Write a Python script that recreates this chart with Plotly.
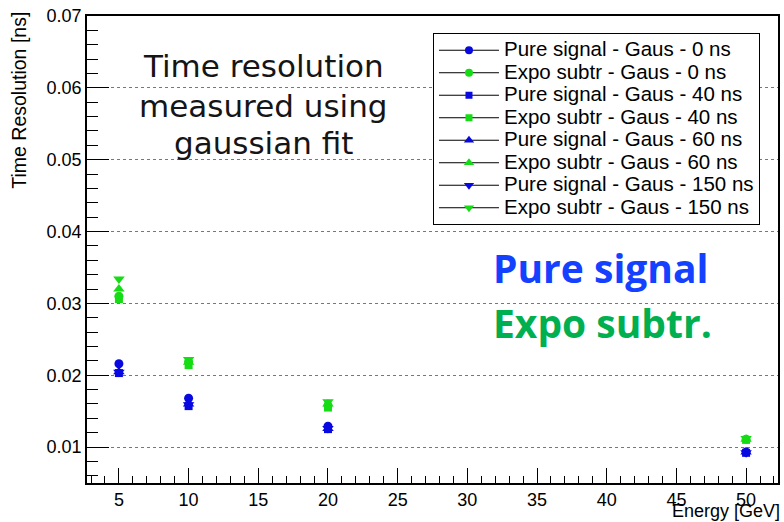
import plotly.graph_objects as go

# Beam energies (GeV)
energy = [5, 10, 20, 50]

# Time resolution (ns) from the gaussian fit, per configuration
pure_0ns = [0.0216, 0.0168, 0.0129, 0.0093]
expo_0ns = [0.0310, 0.0219, 0.0158, 0.0111]
pure_40ns = [0.0203, 0.0157, 0.0125, 0.0092]
expo_40ns = [0.0306, 0.0214, 0.0155, 0.0110]
pure_60ns = [0.0205, 0.0160, 0.0126, 0.0093]
expo_60ns = [0.0320, 0.0218, 0.0160, 0.0111]
pure_150ns = [0.0204, 0.0159, 0.0126, 0.0092]
expo_150ns = [0.0334, 0.0222, 0.0163, 0.0112]

BLUE = "#0808e0"
GREEN = "#16dc16"
FONT = "Liberation Sans, Arial, Helvetica, sans-serif"

series = [
    ("Pure signal - Gaus - 0 ns", pure_0ns, BLUE, "circle", 9),
    ("Expo subtr - Gaus - 0 ns", expo_0ns, GREEN, "circle", 9),
    ("Pure signal - Gaus - 40 ns", pure_40ns, BLUE, "square", 8),
    ("Expo subtr - Gaus - 40 ns", expo_40ns, GREEN, "square", 8),
    ("Pure signal - Gaus - 60 ns", pure_60ns, BLUE, "triangle-up", 10),
    ("Expo subtr - Gaus - 60 ns", expo_60ns, GREEN, "triangle-up", 10),
    ("Pure signal - Gaus - 150 ns", pure_150ns, BLUE, "triangle-down", 10),
    ("Expo subtr - Gaus - 150 ns", expo_150ns, GREEN, "triangle-down", 10),
]

fig = go.Figure()

for name, vals, color, symbol, size in series:
    # data points
    fig.add_trace(go.Scatter(
        x=energy, y=vals, mode="markers", showlegend=False,
        marker=dict(symbol=symbol, size=size, color=color, line=dict(width=0)),
    ))
    # legend entry: black line with coloured marker; larger text in compact rows
    fig.add_trace(go.Scatter(
        x=[None], y=[None], mode="lines+markers",
        name=f"<span style='font-size:20.5px'>{name}</span>",
        line=dict(color="black", width=1),
        marker=dict(symbol=symbol, size=size - 1, color=color, line=dict(width=0)),
    ))

fig.update_layout(
    width=784, height=522,
    margin=dict(l=87, r=4, t=16, b=39),
    paper_bgcolor="white", plot_bgcolor="white",
    font=dict(family=FONT, size=18, color="black"),
    showlegend=True,
    legend=dict(
        x=0.5007, y=0.9636, xanchor="left", yanchor="top",
        bgcolor="white", bordercolor="black", borderwidth=1,
        font=dict(family=FONT, size=15.0, color="black"),
        itemwidth=60, tracegroupgap=0,
    ),
    xaxis=dict(
        range=[2.71, 52.29], dtick=5, tick0=0,
        ticks="inside", ticklen=15, tickwidth=1, tickcolor="black",
        minor=dict(ticks="inside", ticklen=7, dtick=1, tick0=0, tickcolor="black", showgrid=False),
        showgrid=False, zeroline=False,
        showline=True, linecolor="black", linewidth=1.5, mirror=True,
        tickfont=dict(family=FONT, size=18),
    ),
    yaxis=dict(
        range=[0.005, 0.07], dtick=0.01, tick0=0,
        ticks="inside", ticklen=22, tickwidth=1, tickcolor="black",
        minor=dict(ticks="inside", ticklen=11, dtick=0.002, tick0=0, tickcolor="black", showgrid=False),
        showgrid=True, gridcolor="#777777", griddash="dot", gridwidth=1,
        zeroline=False,
        showline=True, linecolor="black", linewidth=1.5, mirror=True,
        tickfont=dict(family=FONT, size=18),
    ),
)

# Note in the upper-left corner, one line per annotation
note_font = dict(family="DejaVu Sans, sans-serif", size=31, color="#151515")
for line, yp in [("Time resolution", 0.8929), ("measured using", 0.8073), ("gaussian fit", 0.7281)]:
    fig.add_annotation(text=line, xref="paper", yref="paper", x=0.2554, y=yp,
                       xanchor="center", yanchor="middle", showarrow=False, font=note_font)

# Colour key for the two signal treatments
fig.add_annotation(text="<b>Pure signal</b>", xref="paper", yref="paper", x=0.5845, y=0.4625,
                   xanchor="left", yanchor="middle", showarrow=False,
                   font=dict(family="Open Sans, sans-serif", size=39, color="#1440ff"))
fig.add_annotation(text="<b>Expo subtr.</b>", xref="paper", yref="paper", x=0.5845, y=0.3447,
                   xanchor="left", yanchor="middle", showarrow=False,
                   font=dict(family="Open Sans, sans-serif", size=39, color="#00b050"))

# Axis titles, aligned to the far end of each axis
fig.add_annotation(text="Energy [GeV]", xref="paper", yref="paper", x=1.006, y=-0.061,
                   xanchor="right", yanchor="middle", showarrow=False,
                   font=dict(family=FONT, size=18, color="black"))
fig.add_annotation(text="Time Resolution [ns]", xref="paper", yref="paper", x=-0.0996, y=1.0128,
                   xanchor="center", yanchor="top", textangle=-90, showarrow=False,
                   font=dict(family=FONT, size=19.5, color="black"))

fig.write_html("out.html")
